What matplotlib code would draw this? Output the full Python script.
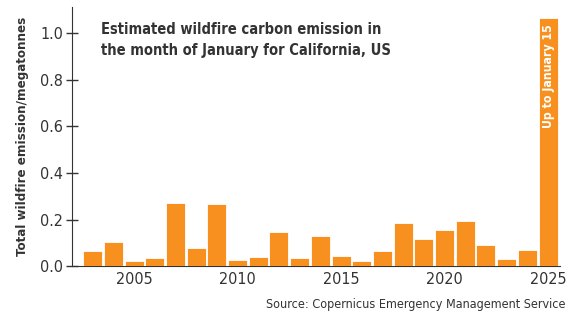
import matplotlib
matplotlib.use("Agg")
import matplotlib.pyplot as plt

plt.rcParams['font.family'] = ['DejaVu Sans']
plt.rcParams['font.stretch'] = 'condensed'

years = list(range(2003, 2026))
emission = [0.066, 0.104, 0.021, 0.036, 0.270, 0.080, 0.266, 0.026, 0.040, 0.149,
            0.036, 0.129, 0.046, 0.023, 0.066, 0.184, 0.116, 0.154, 0.193, 0.090,
            0.031, 0.070, 1.064]
yticks = [0.0, 0.2, 0.4, 0.6, 0.8, 1.0]
xticks = [2005, 2010, 2015, 2020, 2025]

orange = "#f7901e"
dark = "#333333"

fig = plt.figure(figsize=(5.77, 3.14), dpi=100)
ax = fig.add_axes([0.1248, 0.152, 0.8465, 0.827])

ax.bar(years, emission, width=0.92, color=orange, edgecolor="white", linewidth=0.6, zorder=3)

ax.set_xlim(2002.0, 2025.6)
ax.set_ylim(0, 1.114)
ax.set_yticks(yticks)
ax.set_yticklabels(["%.1f" % v for v in yticks])
ax.set_xticks(xticks)

for s in ["top", "right"]:
    ax.spines[s].set_visible(False)
ax.spines["left"].set_color(dark)
ax.spines["bottom"].set_color(dark)

ax.tick_params(axis="y", direction="inout", length=9, width=1.0, color=dark,
               labelsize=11.5, labelcolor=dark, pad=2)
ax.tick_params(axis="x", length=0, labelsize=11.5, labelcolor=dark, pad=4)

ax.set_ylabel("Total wildfire emission/megatonnes", fontsize=9.5, color=dark,
              fontweight="bold", labelpad=8)

ax.text(2003.4, 1.05, "Estimated wildfire carbon emission in\nthe month of January for California, US",
        fontsize=10.5, fontweight="bold", color=dark, va="top", ha="left", linespacing=1.55)

ax.text(years[-1], emission[-1] - 0.025, "Up to January 15", rotation=90, color="white",
        fontsize=8.8, fontweight="bold", ha="center", va="top")

fig.text(0.98, 0.008, "Source: Copernicus Emergency Management Service", fontsize=9,
         color=dark, ha="right", va="bottom")

fig.savefig("out.png", dpi=100)
